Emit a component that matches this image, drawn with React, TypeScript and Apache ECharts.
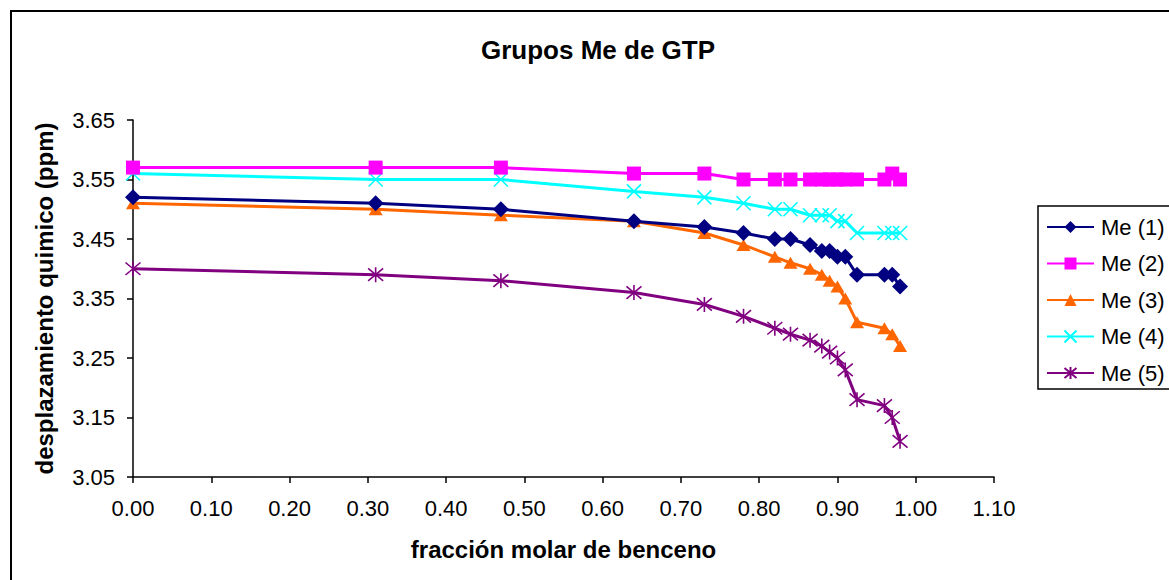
import React, { useEffect, useRef } from "react";
import * as echarts from "echarts";

const xValues = [0, 0.31, 0.47, 0.64, 0.73, 0.78, 0.82, 0.84, 0.865, 0.88, 0.89, 0.9, 0.91, 0.925, 0.96, 0.97, 0.98];
const me1 = [3.52, 3.51, 3.5, 3.48, 3.47, 3.46, 3.45, 3.45, 3.44, 3.43, 3.43, 3.42, 3.42, 3.39, 3.39, 3.39, 3.37];
const me2 = [3.57, 3.57, 3.57, 3.56, 3.56, 3.55, 3.55, 3.55, 3.55, 3.55, 3.55, 3.55, 3.55, 3.55, 3.55, 3.56, 3.55];
const me3 = [3.51, 3.5, 3.49, 3.48, 3.46, 3.44, 3.42, 3.41, 3.4, 3.39, 3.38, 3.37, 3.35, 3.31, 3.3, 3.29, 3.27];
const me4 = [3.56, 3.55, 3.55, 3.53, 3.52, 3.51, 3.5, 3.5, 3.49, 3.49, 3.49, 3.48, 3.48, 3.46, 3.46, 3.46, 3.46];
const me5 = [3.4, 3.39, 3.38, 3.36, 3.34, 3.32, 3.3, 3.29, 3.28, 3.27, 3.26, 3.25, 3.23, 3.18, 3.17, 3.15, 3.11];

const seriesNames = ["Me (1)", "Me (2)", "Me (3)", "Me (4)", "Me (5)"];
const seriesColors = ["#000080", "#FF00FF", "#FF6600", "#00FFFF", "#800080"];
const seriesValues = [me1, me2, me3, me4, me5];

const titleText = "Grupos Me de GTP";
const xTitle = "fracción molar de benceno";
const yTitle = "desplazamiento quimico (ppm)";

const FONT = "'Liberation Sans', Arial, sans-serif";

const symbolDefs: any[] = [
  { symbol: "diamond", symbolSize: [16, 16] },
  { symbol: "rect", symbolSize: [14, 14] },
  { symbol: "triangle", symbolSize: [14, 12] },
  { symbol: "path://M0,0L10,10M10,0L0,10", symbolSize: [14, 14], stroke: true },
  { symbol: "path://M0,0L10,10M10,0L0,10M5,-1L5,11", symbolSize: [15, 15], stroke: true },
];

export default function App() {
  const ref = useRef<HTMLDivElement>(null);
  useEffect(() => {
    if (!ref.current) return;
    const chart = echarts.init(ref.current, null, { renderer: "svg" });
    const series = seriesNames.map((name, k) => {
      const def = symbolDefs[k];
      return {
        name,
        type: "line",
        data: xValues.map((x, i) => [x, seriesValues[k][i]]),
        symbol: def.symbol,
        symbolSize: def.symbolSize,
        showAllSymbol: true,
        lineStyle: { color: seriesColors[k], width: 3 },
        itemStyle: def.stroke
          ? { color: seriesColors[k], borderColor: seriesColors[k], borderWidth: 1.6 }
          : { color: seriesColors[k], borderWidth: 0 },
        emphasis: { disabled: true },
        z: 10 - k,
      };
    });
    chart.setOption({
      animation: false,
      backgroundColor: "#ffffff",
      title: {
        text: titleText,
        left: 593,
        textAlign: "center",
        top: 32,
        textStyle: { fontFamily: FONT, fontSize: 26, fontWeight: "bold", color: "#000" },
      },
      legend: {
        orient: "vertical",
        left: 1038,
        top: 206,
        padding: [9, 10, 4, 8],
        borderColor: "#000",
        borderWidth: 1.5,
        itemWidth: 47,
        itemHeight: 15,
        itemGap: 12.5,
        textStyle: { fontFamily: FONT, fontSize: 22, color: "#000", lineHeight: 24, padding: [0, 0, 0, 2] },
        data: seriesNames,
      },
      grid: { left: 133, right: 175, top: 120, bottom: 103, containLabel: false },
      xAxis: {
        type: "value",
        min: 0,
        max: 1.1,
        interval: 0.1,
        name: xTitle,
        nameLocation: "middle",
        nameGap: 60,
        nameTextStyle: { fontFamily: FONT, fontSize: 24, fontWeight: "bold", color: "#000" },
        axisLine: { show: true, onZero: false, lineStyle: { color: "#000", width: 1.5 } },
        axisTick: { show: true, length: 6, lineStyle: { color: "#000", width: 1.5 } },
        axisLabel: {
          fontFamily: FONT,
          fontSize: 22,
          color: "#000",
          margin: 20,
          formatter: (v: number) => v.toFixed(2),
        },
        splitLine: { show: false },
      },
      yAxis: {
        type: "value",
        min: 3.05,
        max: 3.65,
        interval: 0.1,
        name: yTitle,
        nameLocation: "middle",
        nameGap: 77,
        nameTextStyle: { fontFamily: FONT, fontSize: 24, fontWeight: "bold", color: "#000" },
        axisLine: { show: true, onZero: false, lineStyle: { color: "#000", width: 1.5 } },
        axisTick: { show: true, length: 6, lineStyle: { color: "#000", width: 1.5 } },
        axisLabel: {
          fontFamily: FONT,
          fontSize: 22,
          color: "#000",
          margin: 18,
          formatter: (v: number) => v.toFixed(2),
        },
        splitLine: { show: false },
      },
      graphic: [
        {
          type: "rect",
          shape: { x: 11, y: 11, width: 1300, height: 700 },
          style: { fill: "none", stroke: "#000", lineWidth: 2 },
          silent: true,
          z: -1,
        },
      ],
      series,
    });
    return () => chart.dispose();
  }, []);
  return (
    <div
      ref={ref}
      style={{ position: "absolute", left: 0, top: 0, width: 1169, height: 580 }}
    />
  );
}
